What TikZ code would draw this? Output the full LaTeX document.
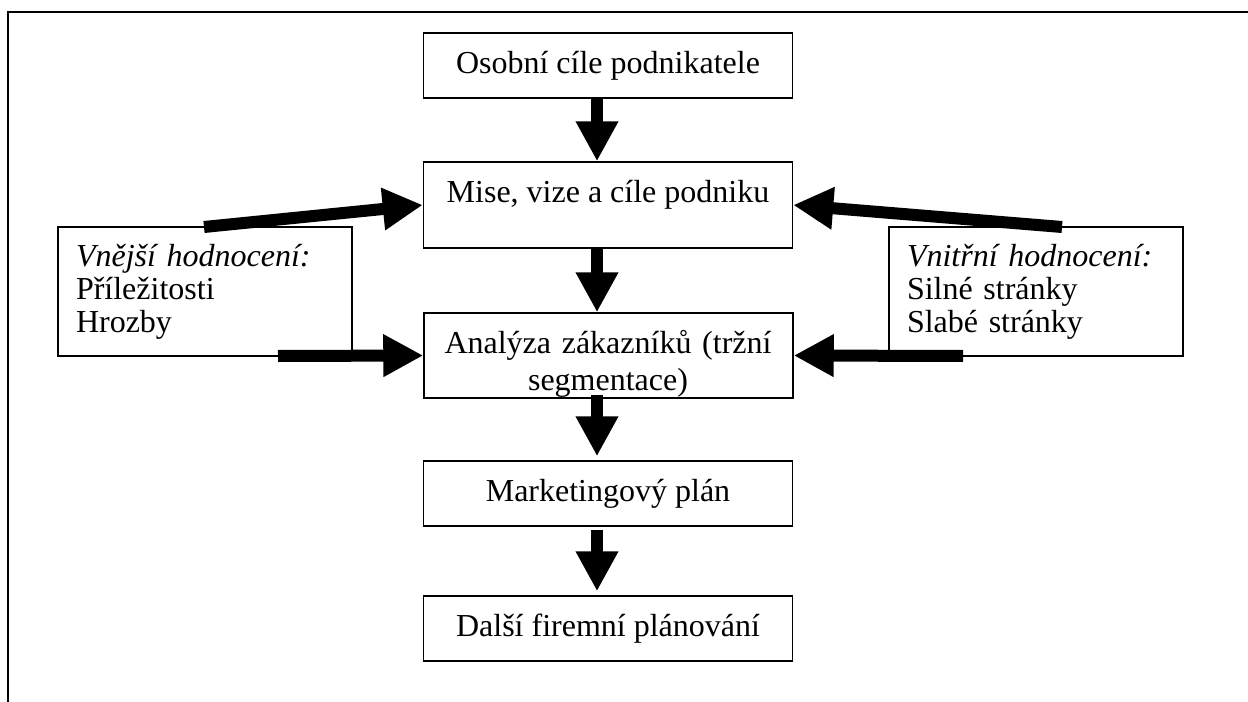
\documentclass[tikz,border=0pt]{standalone}
\usepackage{fontspec}
\setmainfont{Liberation Serif}
\usepackage{tikz}
\usetikzlibrary{arrows.meta}

\begin{document}
\begin{tikzpicture}[x=0.75pt,y=0.75pt,yscale=-1,xscale=1,
  font=\fontsize{24}{24.75}\selectfont,
  box/.style={draw,line width=1.1pt,inner sep=0pt,minimum width=276.75pt,minimum height=48.75pt},
  sidebox/.style={draw,line width=1.1pt,inner xsep=13.5pt,inner ysep=0pt,text width=193.5pt,minimum height=96.75pt,align=left},
  fat/.style={line width=9pt,-{Triangle[width=30pt,length=30pt]}}]
\useasboundingbox (0,0) rectangle (1248,702);
\draw [line width=1.5pt] (1248,12) -- (8,12) -- (8,702);
\node [box] (osobni) at (608,65.5) {Osobní cíle podnikatele};
\node [box,minimum height=64.5pt,text height=16.5pt,text depth=19.5pt] (mise) at (608,205) {Mise, vize a cíle podniku};
\node [box,minimum height=63.75pt] (analyza) at (608.5,355.5) {};
\node [box] (marketing) at (608,493.5) {Marketingový plán};
\node [box] (dalsi) at (608,628.5) {Další firemní plánování};
\node [sidebox] (vnejsi) at (205,291.5) {\textit{Vnější hodnocení:}\\Příležitosti\\Hrozby};
\node [sidebox] (vnitrni) at (1036,291.5) {\textit{Vnitřní hodnocení:}\\Silné stránky\\Slabé stránky};
\begin{scope}
\clip (analyza.north west) rectangle ([yshift=8.6pt]analyza.south east);
\node [anchor=base,inner sep=0pt,text width=276pt,align=center,font=\fontsize{24}{27.75}\selectfont] (analyzatext) at (608,353) {Analýza zákazníků (tržní\\segmentace)};
\end{scope}
\coordinate (ax) at (597,0);
\coordinate (vnejsitop) at (204,227);
\coordinate (vnejsibot) at (278,356);
\coordinate (vnitrnitop) at (1062,227);
\coordinate (vnitrnibot) at (963,356);
\draw [fat] (osobni.south -| ax) -- (mise.north -| ax);
\draw [fat] (mise.south -| ax) -- (analyza.north -| ax);
\draw [fat,shorten <=-3pt,shorten >=3pt] (analyza.south -| ax) -- (marketing.north -| ax);
\draw [fat,shorten <=2.25pt,shorten >=3pt] (marketing.south -| ax) -- (dalsi.north -| ax);
\draw [fat] (vnejsitop) -- (mise.west);
\draw [fat] (vnejsibot) -- (analyza.west);
\draw [fat] (vnitrnitop) -- (mise.east);
\draw [fat] (vnitrnibot) -- (analyza.east);
\end{tikzpicture}
\end{document}
